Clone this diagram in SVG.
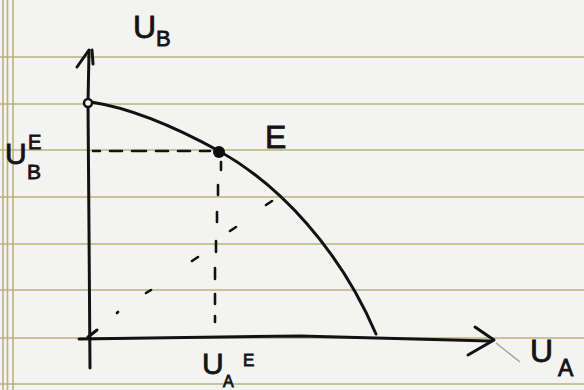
<svg xmlns="http://www.w3.org/2000/svg" width="584" height="390" viewBox="0 0 584 390">
<style>
.rule{stroke:#b8b37c;stroke-width:1.6;fill:none}
.ink{stroke:#121212;stroke-width:3;fill:none;stroke-linecap:round;stroke-linejoin:round}
.dash{stroke:#121212;stroke-width:2.6;fill:none;stroke-linecap:round}
.lbl{font-family:"Liberation Sans",Arial,sans-serif;fill:#141414;stroke:#141414;stroke-width:0.8}
</style>
<rect width="584" height="390" fill="#f3f3f1"/>
<g id="paper">
<path class="rule" d="M0 57H584M0 104H584M0 150H584M0 197H584M0 244H584M0 290H584M0 338H584M0 384H584"/>
<path class="rule" d="M3 0V390M7.5 0V390M13 0V390"/>
</g>
<g id="connectors">
<path id="y-axis" class="ink" d="M90 368 L89 230 L88 103 L89 52"/>
<path class="ink" d="M77 67 L89 50 M92 50 L93 64"/>
<path id="x-axis" class="ink" d="M79 339 L300 336 L490 341"/>
<path class="ink" d="M475 327 L494 340 L468 355"/>
<path d="M496 343 L520 362" stroke="#555" stroke-width="1.5" opacity="0.5"/>
<path class="ink" d="M88 337 L97 330" stroke-width="2"/>
<path class="dash" d="M93 151H100 M110 151H122 M132 151H146 M156 151H168 M178 151H190 M200 151H210"/>
<path class="dash" d="M221 162V170 M218 185V195 M217 212V222 M216 241V252 M215 268V279 M215 294V304 M215 316V322"/>
<path class="dash" d="M117 313L118 312 M146 293L151 290 M192 261L198 257 M230 231L236 227 M266 205L272 201"/>
</g>
<g id="frontier">
<path class="ink" d="M91 102 C130 108 170 124 219 151 C280 185 340 250 376 334"/>
</g>
<g id="point-top">
<circle cx="88" cy="103" r="4" fill="#f3f3f1" stroke="#121212" stroke-width="2.5"/>
</g>
<g id="point-E">
<circle cx="219" cy="152" r="6" fill="#0e0e0e"/>
</g>
<g id="labels">
<text class="lbl" x="133" y="38" font-size="32">U<tspan font-size="22" dy="8">B</tspan></text>
<text class="lbl" x="265" y="148" font-size="32">E</text>
<text class="lbl" font-size="30"><tspan x="5" y="164">U</tspan><tspan x="28" y="149" font-size="20">E</tspan><tspan x="27" y="179" font-size="21">B</tspan></text>
<text class="lbl" font-size="30"><tspan x="202" y="374">U</tspan><tspan x="223" y="387" font-size="16">A</tspan><tspan x="243" y="366" font-size="17">E</tspan></text>
<text class="lbl" font-size="32"><tspan x="530" y="362">U</tspan><tspan x="558" y="376" font-size="23">A</tspan></text>
</g>
</svg>
